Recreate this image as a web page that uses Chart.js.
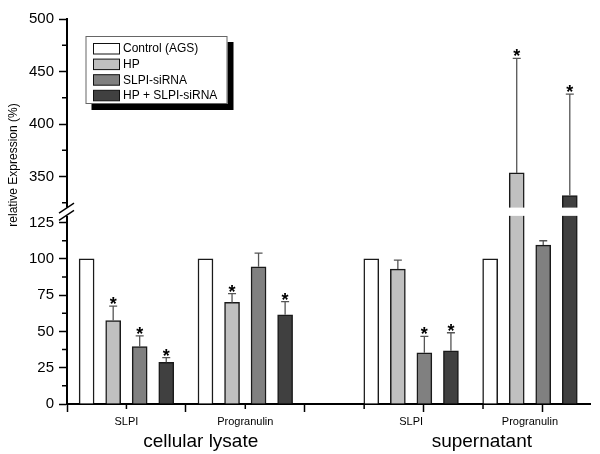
<!DOCTYPE html>
<html>
<head>
<meta charset="utf-8">
<script src="https://cdn.jsdelivr.net/npm/chart.js@4.4.1/dist/chart.umd.min.js"></script>
<style>
  html, body { margin: 0; padding: 0; background: #fff; }
</style>
</head>
<body>
<canvas id="chart" width="600" height="454"></canvas>
<script>
// categories
const groups = ["SLPI", "Progranulin", "SLPI", "Progranulin"];
const sections = ["cellular lysate", "supernatant"];
const series = ["Control (AGS)", "HP", "SLPI-siRNA", "HP + SLPI-siRNA"];

// relative expression (%) per group, one array per series
const controlValues = [100, 100, 100, 100];
const hpValues = [57.5, 70, 93, 353.5];
const sirnaValues = [39.5, 94.5, 35.3, 109.5];
const hpSirnaValues = [28.7, 61.5, 36.7, 332];

// upper error (+SD)
const controlErrors = [0, 0, 0, 0];
const hpErrors = [10, 6, 6.2, 109];
const sirnaErrors = [7.5, 9.5, 11.3, 3];
const hpSirnaErrors = [3.2, 9, 12.4, 96.5];

// significance stars
const controlSig = [false, false, false, false];
const hpSig = [true, true, false, true];
const sirnaSig = [true, false, true, false];
const hpSirnaSig = [true, true, true, true];

// tick labels
const lowerTicks = [0, 25, 50, 75, 100, 125];
const upperTicks = [350, 400, 450, 500];
const lowerMinorTicks = [12.5, 37.5, 62.5, 87.5, 112.5];
const upperMinorTicks = [325, 375, 425, 475];
const xMajorTicks = [0, 2, 4, 6, 8];
const xMinorTicks = [1, 3, 5, 7];

// layout of the x axis (axis units)
const groupPos = [1, 3, 5.79, 7.79];
const sectionPos = [2.25, 6.98];
const seriesOffset = [-0.67, -0.223, 0.223, 0.67];

// axis break
const lowerMax = 135;
const lowerCut = 130;
const upperMin = 320;

const colors = ["#ffffff", "#c0c0c0", "#808080", "#404040"];
const values = [controlValues, hpValues, sirnaValues, hpSirnaValues];
const errors = [controlErrors, hpErrors, sirnaErrors, hpSirnaErrors];
const sig = [controlSig, hpSig, sirnaSig, hpSirnaSig];

const FONT = "Arial, 'Liberation Sans', sans-serif";
Chart.defaults.font.family = FONT;
Chart.defaults.color = "#000";

const datasets = [];
series.forEach((name, s) => {
  datasets.push({
    label: name,
    yAxisID: "y",
    backgroundColor: colors[s],
    data: values[s].map((v, g) => ({ x: groupPos[g] + seriesOffset[s], y: [0, Math.min(v, lowerMax)] }))
  });
});
series.forEach((name, s) => {
  const data = [];
  values[s].forEach((v, g) => {
    if (v > upperMin) data.push({ x: groupPos[g] + seriesOffset[s], y: [upperMin, v] });
  });
  datasets.push({ label: name, yAxisID: "yUp", backgroundColor: colors[s], data });
});

function valuePixel(chart, v) {
  return v > lowerCut ? chart.scales.yUp.getPixelForValue(v) : chart.scales.y.getPixelForValue(v);
}

const decor = {
  id: "decor",
  afterDatasetsDraw(chart) {
    const ctx = chart.ctx;
    const { x, y, yUp } = chart.scales;
    const area = chart.chartArea;

    // break gap
    const top = yUp.bottom;
    const bottom = y.getPixelForValue(lowerCut);
    ctx.save();
    ctx.fillStyle = "#fff";
    ctx.fillRect(area.left - 3, top - 0.5, area.right - area.left + 3, bottom - top + 1);
    ctx.strokeStyle = "#000";
    ctx.lineWidth = 1.3;
    [top, bottom].forEach(py => {
      ctx.beginPath();
      ctx.moveTo(area.left - 8, py + 5);
      ctx.lineTo(area.left + 7, py - 5);
      ctx.stroke();
    });

    // minor ticks
    ctx.lineWidth = 1.5;
    ctx.beginPath();
    lowerMinorTicks.forEach(v => { const py = y.getPixelForValue(v); ctx.moveTo(area.left - 5, py); ctx.lineTo(area.left, py); });
    upperMinorTicks.forEach(v => { const py = yUp.getPixelForValue(v); ctx.moveTo(area.left - 5, py); ctx.lineTo(area.left, py); });
    xMinorTicks.forEach(v => { const px = x.getPixelForValue(v); ctx.moveTo(px, area.bottom); ctx.lineTo(px, area.bottom + 5); });
    ctx.stroke();

    // error bars and stars
    series.forEach((name, s) => {
      const meta = chart.getDatasetMeta(s);
      values[s].forEach((v, g) => {
        const px = meta.data[g].x;
        const barTop = valuePixel(chart, v);
        const errTop = valuePixel(chart, v + errors[s][g]);
        if (errors[s][g] > 0) {
          ctx.strokeStyle = "#555";
          ctx.lineWidth = 1.3;
          ctx.beginPath();
          ctx.moveTo(px, barTop);
          ctx.lineTo(px, errTop);
          ctx.moveTo(px - 4, errTop);
          ctx.lineTo(px + 4, errTop);
          ctx.stroke();
        }
        if (sig[s][g]) {
          ctx.fillStyle = "#000";
          ctx.font = "bold 18px " + FONT;
          ctx.textAlign = "center";
          ctx.textBaseline = "alphabetic";
          ctx.fillText("*", px, errTop + 4);
        }
      });
    });
    ctx.restore();
  },
  afterDraw(chart) {
    const ctx = chart.ctx;
    const { x } = chart.scales;
    const area = chart.chartArea;
    ctx.save();

    // group and section labels
    ctx.fillStyle = "#000";
    ctx.textAlign = "center";
    ctx.textBaseline = "alphabetic";
    ctx.font = "11px " + FONT;
    groups.forEach((g, i) => ctx.fillText(g, x.getPixelForValue(groupPos[i]), area.bottom + 20.5));
    ctx.font = "19px " + FONT;
    sections.forEach((t, i) => ctx.fillText(t, x.getPixelForValue(sectionPos[i]), area.bottom + 43));

    // y title
    ctx.save();
    ctx.translate(14, 165);
    ctx.rotate(-Math.PI / 2);
    ctx.font = "12px " + FONT;
    ctx.textBaseline = "middle";
    ctx.fillText("relative Expression (%)", 0, 0);
    ctx.restore();

    // legend with shadow
    const lx = area.left + 18.5, ly = area.top + 17, lw = 142, lh = 68;
    ctx.fillStyle = "#000";
    ctx.fillRect(lx + 6, ly + 6, lw, lh);
    ctx.fillStyle = "#fff";
    ctx.fillRect(lx, ly, lw, lh);
    ctx.strokeStyle = "#666";
    ctx.lineWidth = 1;
    ctx.strokeRect(lx + 0.5, ly + 0.5, lw - 1, lh - 1);
    ctx.font = "12px " + FONT;
    ctx.textAlign = "left";
    ctx.textBaseline = "middle";
    series.forEach((name, i) => {
      const ry = ly + 7.5 + i * 15.6;
      ctx.fillStyle = colors[i];
      ctx.fillRect(lx + 8, ry, 26, 10.5);
      ctx.strokeStyle = "#111";
      ctx.strokeRect(lx + 8, ry, 26, 10.5);
      ctx.fillStyle = "#000";
      ctx.fillText(name, lx + 37.5, ry + 5.5);
    });
    ctx.restore();
  }
};

const yCommon = {
  position: "left",
  stack: "v",
  grid: { drawOnChartArea: false, tickLength: 8, tickColor: "#000", tickWidth: 1.5 },
  border: { color: "#000", width: 2 },
  ticks: { font: { size: 15 }, color: "#000", padding: 5 },
  afterFit: sc => { sc.width = 67; }
};

new Chart(document.getElementById("chart"), {
  type: "bar",
  data: { datasets },
  options: {
    responsive: false,
    animation: false,
    events: [],
    layout: { padding: { top: 19, right: 10, left: 0, bottom: 0 } },
    datasets: {
      bar: { grouped: false, barThickness: 15, borderWidth: 1.5, borderColor: "#1a1a1a", borderSkipped: "bottom" }
    },
    plugins: { legend: { display: false }, tooltip: { enabled: false } },
    scales: {
      x: {
        type: "linear", min: 0, max: 8.8, offset: false,
        grid: { offset: false, drawOnChartArea: false, tickLength: 8, tickColor: "#000", tickWidth: 1.5 },
        border: { color: "#000", width: 2 },
        ticks: { display: false },
        afterBuildTicks: sc => { sc.ticks = xMajorTicks.map(value => ({ value })); },
        afterFit: sc => { sc.height = 50; }
      },
      y: Object.assign({}, yCommon, {
        min: 0, max: lowerMax, stackWeight: 196.2,
        afterBuildTicks: sc => { sc.ticks = lowerTicks.map(value => ({ value })); }
      }),
      yUp: Object.assign({}, yCommon, {
        min: upperMin, max: 500, stackWeight: 189.4,
        afterBuildTicks: sc => { sc.ticks = upperTicks.map(value => ({ value })); }
      })
    }
  },
  plugins: [decor]
});
</script>
</body>
</html>
